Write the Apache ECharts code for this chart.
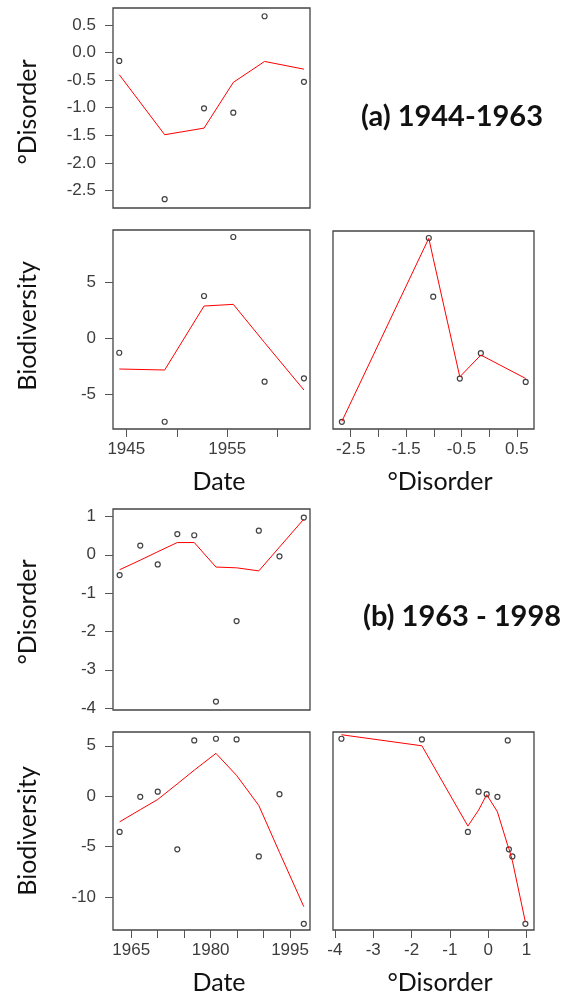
<!DOCTYPE html>
<html>
<head>
<meta charset="utf-8">
<script src="https://cdn.jsdelivr.net/npm/echarts@6/dist/echarts.min.js"></script>
<style>
  html, body { margin: 0; padding: 0; background: #fff; }
  #chart { width: 571px; height: 1000px; }
</style>
</head>
<body>
<div id="chart"></div>
<script>
// (a) 1944-1963
const dateA = [1944.3, 1948.8, 1952.7, 1955.6, 1958.7, 1962.6]
const disorderA = [-0.15, -2.66, -1.01, -1.09, 0.66, -0.53]
const bioA = [-1.3, -7.5, 3.8, 9.1, -3.9, -3.6]
const disorderFitA = [-0.40, -1.49, -1.37, -0.54, -0.16, -0.30]
const bioFitA = [-2.76, -2.85, 2.9, 3.05, -0.39, -4.65]
const fitXA = [-2.66, -1.09, -1.01, -0.53, -0.15, 0.66]
const fitYA = [-7.46, 9.07, 7.25, -3.44, -1.47, -3.59]

// (b) 1963 - 1998
const dateB = [1962.8, 1966.7, 1970.0, 1973.7, 1976.9, 1981.0, 1984.9, 1989.1, 1993.0, 1997.6]
const disorderB = [-0.53, 0.24, -0.25, 0.54, 0.51, -3.83, -1.73, 0.63, -0.04, 0.97]
const bioB = [-3.55, -0.07, 0.44, -5.28, 5.53, 5.7, 5.63, -5.98, 0.2, -12.68]
const disorderFitB = [-0.39, -0.14, 0.08, 0.32, 0.32, -0.32, -0.34, -0.42, 0.20, 0.93]
const bioFitB = [-2.55, -1.34, -0.33, 1.22, 2.58, 4.25, 2.06, -0.93, -5.58, -10.97]
const fitXB = [-3.83, -1.73, -0.53, -0.25, -0.04, 0.24, 0.51, 0.54, 0.63, 0.97]
const fitYB = [6.1, 5.0, -2.97, -1.38, 0.15, -1.55, -4.9, -5.2, -6.4, -12.5]

// tick positions / labels
const disorderTicksA = [-2.5, -2, -1.5, -1, -0.5, 0, 0.5]
const disorderLabelsA = [-2.5, -1.5, -0.5, 0.5]
const bioTicksA = [-5, 0, 5]
const dateTicksA = [1945, 1950, 1955, 1960]
const dateLabelsA = [1945, 1955]
const disorderTicksB = [-4, -3, -2, -1, 0, 1]
const bioTicksB = [-10, -5, 0, 5]
const dateTicksB = [1965, 1970, 1975, 1980, 1985, 1990, 1995]
const dateLabelsB = [1965, 1980, 1995]

const pairs = (xs, ys) => xs.map((x, i) => [x, ys[i]])

const tickFont = 'Liberation Sans'
const nameFont = 'Lato'

function shownAxis(gi, min, max, ticks, labels, fmt, margin) {
  return {
    type: 'value', gridIndex: gi, min: min, max: max,
    axisLine: { show: false, onZero: false },
    splitLine: { show: false },
    axisTick: { show: true, customValues: ticks, length: 8, lineStyle: { color: '#555', width: 1 } },
    axisLabel: {
      show: true, customValues: labels, margin: margin,
      fontSize: 17, color: '#3c3c3c', fontFamily: tickFont,
      formatter: fmt || (v => String(v))
    }
  }
}
function hiddenAxis(gi, min, max) {
  return { type: 'value', gridIndex: gi, min: min, max: max, show: false }
}

const box = { show: true, borderColor: '#444', borderWidth: 1.3, backgroundColor: 'transparent' }
const grids = [
  Object.assign({ left: 113, top: 8, width: 197, height: 200 }, box),
  Object.assign({ left: 113, top: 230, width: 197, height: 199 }, box),
  Object.assign({ left: 333, top: 231, width: 201, height: 198 }, box),
  Object.assign({ left: 113, top: 509, width: 197, height: 201 }, box),
  Object.assign({ left: 113, top: 732, width: 197, height: 198 }, box),
  Object.assign({ left: 333, top: 732, width: 201, height: 198 }, box)
]

const rangeDateA = [1943.68, 1963.2]
const rangeDisA = [-2.82, 0.81]
const rangeBioA = [-8.15, 9.73]
const rangeDateB = [1961.55, 1998.77]
const rangeDisB = [-4.05, 1.195]
const rangeBioB = [-13.29, 6.37]

const xAxes = [
  hiddenAxis(0, rangeDateA[0], rangeDateA[1]),
  shownAxis(1, rangeDateA[0], rangeDateA[1], dateTicksA, dateLabelsA, null, 12),
  shownAxis(2, rangeDisA[0], rangeDisA[1], disorderTicksA, disorderLabelsA, null, 12),
  hiddenAxis(3, rangeDateB[0], rangeDateB[1]),
  shownAxis(4, rangeDateB[0], rangeDateB[1], dateTicksB, dateLabelsB, null, 12),
  shownAxis(5, rangeDisB[0], rangeDisB[1], disorderTicksB, disorderTicksB, null, 12)
]
const yAxes = [
  shownAxis(0, rangeDisA[0], rangeDisA[1], disorderTicksA, disorderTicksA, v => v.toFixed(1), 17),
  shownAxis(1, rangeBioA[0], rangeBioA[1], bioTicksA, bioTicksA, null, 17),
  hiddenAxis(2, rangeBioA[0], rangeBioA[1]),
  shownAxis(3, rangeDisB[0], rangeDisB[1], disorderTicksB, disorderTicksB, null, 17),
  shownAxis(4, rangeBioB[0], rangeBioB[1], bioTicksB, bioTicksB, null, 17),
  hiddenAxis(5, rangeBioB[0], rangeBioB[1])
]

function pts(gi, data) {
  return {
    type: 'scatter', xAxisIndex: gi, yAxisIndex: gi, data: data,
    symbol: 'circle', symbolSize: 5, z: 3,
    itemStyle: { color: 'rgba(255,255,255,0)', borderColor: '#111', borderWidth: 1.2 }
  }
}
function fit(gi, data) {
  return {
    type: 'line', xAxisIndex: gi, yAxisIndex: gi, data: data,
    showSymbol: false, z: 4,
    lineStyle: { color: '#ff0000', width: 1 }
  }
}

const series = [
  pts(0, pairs(dateA, disorderA)), fit(0, pairs(dateA, disorderFitA)),
  pts(1, pairs(dateA, bioA)), fit(1, pairs(dateA, bioFitA)),
  pts(2, pairs(disorderA, bioA)), fit(2, pairs(fitXA, fitYA)),
  pts(3, pairs(dateB, disorderB)), fit(3, pairs(dateB, disorderFitB)),
  pts(4, pairs(dateB, bioB)), fit(4, pairs(dateB, bioFitB)),
  pts(5, pairs(disorderB, bioB)), fit(5, pairs(fitXB, fitYB))
]

function label(text, x, y, opts) {
  opts = opts || {}
  return {
    type: 'text', x: x, y: y, rotation: opts.rotate ? Math.PI / 2 : 0,
    style: {
      text: text,
      font: (opts.bold ? 'bold ' : '') + (opts.size || 25) + 'px ' + nameFont,
      fill: '#111',
      align: 'center', verticalAlign: 'middle',
      textAlign: 'center', textVerticalAlign: 'middle'
    }
  }
}

const graphics = [
  label('°Disorder', 28, 112, { rotate: true }),
  label('Biodiversity', 28, 326, { rotate: true }),
  label('°Disorder', 28, 612, { rotate: true }),
  label('Biodiversity', 28, 831, { rotate: true }),
  label('Date', 219, 482),
  label('°Disorder', 440, 482),
  label('Date', 219, 983),
  label('°Disorder', 440, 983),
  label('(a) 1944-1963', 452, 117, { bold: true, size: 29 }),
  label('(b) 1963 - 1998', 462, 617, { bold: true, size: 29 })
]

const myChart = echarts.init(document.getElementById('chart'))
myChart.setOption({
  animation: false,
  backgroundColor: '#fff',
  grid: grids,
  xAxis: xAxes,
  yAxis: yAxes,
  series: series,
  graphic: graphics
})
</script>
</body>
</html>
